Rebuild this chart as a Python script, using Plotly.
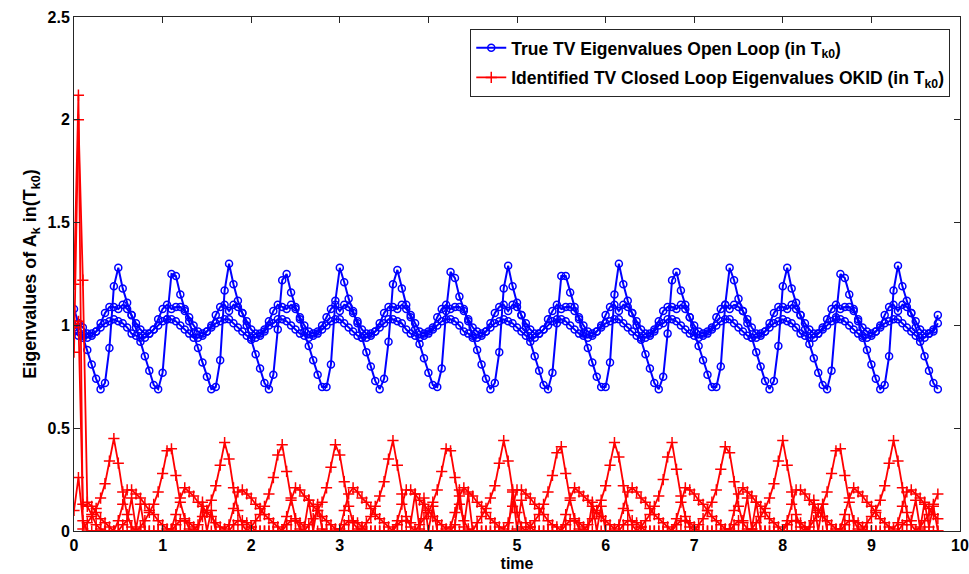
import plotly.graph_objects as go

dt = 0.05
n_samples = 196
time = [round(k * dt, 2) for k in range(n_samples)]

# Blue: true TV open-loop eigenvalue magnitudes (3 traces)
blue_saw = [
    1.08, 1.01, 0.95, 0.88, 0.81, 0.74, 0.69,
    0.72, 0.89, 1.19, 1.28, 1.18, 1.11, 1.05, 0.99, 0.92, 0.85, 0.78, 0.71,
    0.69, 0.77, 1.03, 1.25, 1.24, 1.15, 1.08, 1.02, 0.96, 0.89, 0.82, 0.75, 0.69,
    0.70, 0.83, 1.17, 1.30, 1.20, 1.12, 1.06, 1.00, 0.93, 0.86, 0.79, 0.72,
    0.69, 0.76, 0.98, 1.22, 1.25, 1.16, 1.09, 1.03, 0.97, 0.90, 0.83, 0.76, 0.70,
    0.70, 0.81, 1.12, 1.28, 1.21, 1.13, 1.07, 1.01, 0.94, 0.87, 0.80, 0.73,
    0.69, 0.74, 0.92, 1.20, 1.27, 1.18, 1.10, 1.04, 0.98, 0.91, 0.84, 0.77, 0.71,
    0.70, 0.79, 1.07, 1.26, 1.23, 1.14, 1.08, 1.02, 0.95, 0.88, 0.81, 0.74, 0.69,
    0.72, 0.87, 1.18, 1.29, 1.19, 1.11, 1.05, 0.99, 0.92, 0.85, 0.78, 0.71,
    0.69, 0.77, 1.01, 1.24, 1.24, 1.16, 1.09, 1.03, 0.96, 0.89, 0.82, 0.75, 0.70,
    0.70, 0.82, 1.15, 1.30, 1.20, 1.12, 1.06, 1.00, 0.93, 0.86, 0.79, 0.72,
    0.69, 0.75, 0.96, 1.22, 1.26, 1.17, 1.10, 1.04, 0.97, 0.90, 0.83, 0.76, 0.70,
    0.70, 0.80, 1.10, 1.28, 1.22, 1.13, 1.07, 1.01, 0.94, 0.87, 0.80, 0.73,
    0.69, 0.73, 0.90, 1.19, 1.28, 1.18, 1.11, 1.05, 0.98, 0.91, 0.84, 0.77, 0.71,
    0.69, 0.78, 1.04, 1.25, 1.23, 1.15, 1.08, 1.02, 0.95, 0.88, 0.81, 0.74, 0.69,
    0.71, 0.85, 1.17, 1.29, 1.19, 1.12, 1.06, 0.99, 0.92, 0.85, 0.78, 0.72,
    0.69,
]
blue_mid = [
    0.99, 1.01, 0.99, 0.96, 0.96, 0.97, 1.01,
    1.06, 1.09, 1.09, 1.08, 1.10, 1.08, 1.05, 1.01, 0.98, 0.96, 0.96, 0.98,
    1.03, 1.08, 1.10, 1.08, 1.09, 1.09, 1.07, 1.04, 1.00, 0.97, 0.96, 0.97, 1.00,
    1.05, 1.09, 1.10, 1.07, 1.10, 1.09, 1.06, 1.02, 0.98, 0.96, 0.96, 0.98,
    1.02, 1.07, 1.10, 1.09, 1.08, 1.10, 1.08, 1.04, 1.00, 0.97, 0.96, 0.97, 1.00,
    1.04, 1.08, 1.10, 1.07, 1.10, 1.09, 1.06, 1.02, 0.98, 0.96, 0.96, 0.97,
    1.01, 1.06, 1.09, 1.09, 1.08, 1.10, 1.08, 1.05, 1.01, 0.97, 0.96, 0.97, 0.99,
    1.04, 1.08, 1.10, 1.08, 1.09, 1.09, 1.07, 1.03, 0.99, 0.97, 0.96, 0.97, 1.01,
    1.06, 1.09, 1.10, 1.07, 1.10, 1.09, 1.05, 1.01, 0.98, 0.96, 0.96, 0.98,
    1.03, 1.07, 1.10, 1.08, 1.09, 1.09, 1.07, 1.04, 1.00, 0.97, 0.96, 0.97, 1.00,
    1.05, 1.09, 1.10, 1.07, 1.10, 1.09, 1.06, 1.02, 0.98, 0.96, 0.96, 0.98,
    1.02, 1.07, 1.09, 1.09, 1.08, 1.10, 1.08, 1.04, 1.00, 0.97, 0.96, 0.97, 0.99,
    1.04, 1.08, 1.10, 1.08, 1.10, 1.09, 1.07, 1.03, 0.99, 0.96, 0.96, 0.97,
    1.01, 1.06, 1.09, 1.09, 1.08, 1.10, 1.08, 1.05, 1.01, 0.98, 0.96, 0.96, 0.99,
    1.03, 1.08, 1.10, 1.08, 1.09, 1.09, 1.07, 1.03, 0.99, 0.97, 0.96, 0.97, 1.00,
    1.05, 1.09, 1.10, 1.07, 1.10, 1.09, 1.06, 1.02, 0.98, 0.96, 0.96, 0.98,
    1.05,
]
blue_low = [
    0.97, 0.95, 0.94, 0.94, 0.95, 0.97, 0.99,
    1.01, 1.02, 1.03, 1.02, 1.01, 0.99, 0.96, 0.95, 0.94, 0.94, 0.96, 0.98,
    1.00, 1.02, 1.03, 1.03, 1.02, 1.00, 0.98, 0.96, 0.94, 0.94, 0.95, 0.97, 0.99,
    1.01, 1.02, 1.03, 1.03, 1.01, 0.99, 0.97, 0.95, 0.94, 0.94, 0.95, 0.97,
    1.00, 1.01, 1.03, 1.03, 1.02, 1.00, 0.98, 0.96, 0.95, 0.94, 0.95, 0.96, 0.98,
    1.00, 1.02, 1.03, 1.03, 1.01, 0.99, 0.97, 0.95, 0.94, 0.94, 0.95, 0.97,
    0.99, 1.01, 1.03, 1.03, 1.02, 1.01, 0.98, 0.96, 0.95, 0.94, 0.95, 0.96, 0.98,
    1.00, 1.02, 1.03, 1.03, 1.02, 1.00, 0.97, 0.96, 0.94, 0.94, 0.95, 0.97, 0.99,
    1.01, 1.02, 1.03, 1.02, 1.01, 0.99, 0.97, 0.95, 0.94, 0.94, 0.96, 0.98,
    1.00, 1.02, 1.03, 1.03, 1.02, 1.00, 0.98, 0.96, 0.95, 0.94, 0.95, 0.97, 0.99,
    1.01, 1.02, 1.03, 1.03, 1.01, 0.99, 0.97, 0.95, 0.94, 0.94, 0.95, 0.97,
    1.00, 1.01, 1.03, 1.03, 1.02, 1.00, 0.98, 0.96, 0.95, 0.94, 0.95, 0.96, 0.98,
    1.00, 1.02, 1.03, 1.03, 1.01, 0.99, 0.97, 0.95, 0.94, 0.94, 0.95, 0.97,
    0.99, 1.01, 1.02, 1.03, 1.02, 1.01, 0.99, 0.96, 0.95, 0.94, 0.94, 0.96, 0.98,
    1.00, 1.02, 1.03, 1.03, 1.02, 1.00, 0.98, 0.96, 0.94, 0.94, 0.95, 0.97, 0.99,
    1.01, 1.02, 1.03, 1.03, 1.01, 0.99, 0.97, 0.95, 0.94, 0.94, 0.96, 0.97,
    1.01,
]

# Red: identified closed-loop eigenvalue magnitudes (4 traces)
red_peak = [
    1.20, 2.12, 0.01, 0.04, 0.07, 0.11, 0.16, 0.23, 0.34, 0.45, 0.33, 0.19, 0.08, 0.02,
    0.00, 0.02, 0.05, 0.09, 0.13, 0.19, 0.28, 0.39, 0.40, 0.27, 0.14, 0.06, 0.01, 0.00,
    0.03, 0.07, 0.10, 0.15, 0.22, 0.32, 0.43, 0.35, 0.21, 0.10, 0.03, 0.00,
    0.02, 0.05, 0.08, 0.12, 0.18, 0.26, 0.37, 0.42, 0.29, 0.16, 0.06, 0.01,
    0.00, 0.03, 0.06, 0.10, 0.14, 0.21, 0.31, 0.42, 0.37, 0.24, 0.12, 0.04, 0.01,
    0.01, 0.04, 0.07, 0.12, 0.17, 0.24, 0.35, 0.44, 0.32, 0.18, 0.07, 0.02,
    0.00, 0.03, 0.06, 0.09, 0.14, 0.20, 0.29, 0.40, 0.39, 0.26, 0.13, 0.05, 0.01,
    0.00, 0.04, 0.07, 0.11, 0.16, 0.22, 0.33, 0.44, 0.34, 0.20, 0.09, 0.02,
    0.00, 0.02, 0.05, 0.08, 0.13, 0.19, 0.27, 0.38, 0.41, 0.28, 0.15, 0.06, 0.01,
    0.00, 0.03, 0.06, 0.10, 0.15, 0.22, 0.32, 0.43, 0.36, 0.22, 0.10, 0.03, 0.00,
    0.02, 0.05, 0.08, 0.12, 0.17, 0.25, 0.36, 0.43, 0.30, 0.17, 0.07, 0.02,
    0.00, 0.03, 0.06, 0.10, 0.14, 0.20, 0.30, 0.41, 0.38, 0.24, 0.12, 0.04, 0.01,
    0.01, 0.04, 0.07, 0.11, 0.16, 0.23, 0.34, 0.44, 0.32, 0.19, 0.08, 0.02,
    0.00, 0.02, 0.05, 0.09, 0.13, 0.19, 0.28, 0.39, 0.40, 0.27, 0.14, 0.05, 0.01,
    0.00, 0.04, 0.07, 0.10, 0.15, 0.22, 0.33, 0.44, 0.34, 0.21, 0.09, 0.03, 0.00,
    0.02, 0.05, 0.08, 0.13, 0.18,
]
red_hump = [
    0.87, 2.00, 1.22, 0.14, 0.12, 0.09, 0.06,
    0.04, 0.02, 0.00, 0.05, 0.13, 0.20, 0.20, 0.18, 0.16, 0.13, 0.10, 0.08,
    0.05, 0.03, 0.01, 0.01, 0.08, 0.16, 0.21, 0.19, 0.17, 0.14, 0.12, 0.09, 0.07,
    0.04, 0.02, 0.01, 0.03, 0.11, 0.19, 0.20, 0.18, 0.16, 0.13, 0.11, 0.08,
    0.06, 0.04, 0.02, 0.00, 0.07, 0.15, 0.21, 0.20, 0.17, 0.15, 0.12, 0.10, 0.07,
    0.05, 0.03, 0.01, 0.01, 0.10, 0.18, 0.21, 0.19, 0.16, 0.14, 0.11, 0.08,
    0.06, 0.04, 0.02, 0.00, 0.05, 0.13, 0.20, 0.20, 0.18, 0.15, 0.13, 0.10, 0.07,
    0.05, 0.03, 0.01, 0.02, 0.09, 0.17, 0.21, 0.19, 0.17, 0.14, 0.12, 0.09, 0.06,
    0.04, 0.02, 0.01, 0.04, 0.12, 0.20, 0.20, 0.18, 0.16, 0.13, 0.11, 0.08,
    0.05, 0.03, 0.02, 0.00, 0.08, 0.16, 0.21, 0.19, 0.17, 0.15, 0.12, 0.09, 0.07,
    0.05, 0.03, 0.01, 0.03, 0.11, 0.19, 0.21, 0.19, 0.16, 0.14, 0.11, 0.08,
    0.06, 0.04, 0.02, 0.00, 0.06, 0.14, 0.21, 0.20, 0.18, 0.15, 0.13, 0.10, 0.07,
    0.05, 0.03, 0.01, 0.01, 0.10, 0.18, 0.21, 0.19, 0.17, 0.14, 0.12, 0.09,
    0.06, 0.04, 0.02, 0.00, 0.05, 0.13, 0.20, 0.20, 0.18, 0.15, 0.13, 0.10, 0.07,
    0.05, 0.03, 0.01, 0.01, 0.08, 0.16, 0.21, 0.19, 0.17, 0.14, 0.12, 0.09, 0.06,
    0.04, 0.02, 0.01, 0.04, 0.12, 0.19, 0.20, 0.18, 0.16, 0.13, 0.11, 0.08,
    0.06,
]
red_small = [
    0.99, 1.02, 0.13, 0.12, 0.08, 0.03, 0.01, 0.00, 0.00, 0.00, 0.00,
    0.03, 0.05, 0.16, 0.01, 0.13, 0.00, 0.00, 0.00, 0.00, 0.00, 0.00, 0.00,
    0.03, 0.05, 0.05, 0.04, 0.02, 0.00, 0.14, 0.00, 0.10, 0.00, 0.00, 0.00, 0.00,
    0.03, 0.05, 0.05, 0.04, 0.02, 0.00, 0.00, 0.00, 0.00, 0.00, 0.00, 0.00,
    0.03, 0.05, 0.05, 0.04, 0.02, 0.15, 0.00, 0.13, 0.01, 0.00, 0.00, 0.00, 0.00,
    0.03, 0.05, 0.05, 0.04, 0.02, 0.00, 0.00, 0.00, 0.00, 0.00, 0.00, 0.00,
    0.03, 0.05, 0.05, 0.04, 0.18, 0.01, 0.16, 0.00, 0.12, 0.00, 0.00, 0.00, 0.00,
    0.03, 0.20, 0.02, 0.18, 0.00, 0.00, 0.00, 0.00, 0.00, 0.00, 0.00, 0.00, 0.00,
    0.19, 0.01, 0.15, 0.04, 0.02, 0.00, 0.00, 0.00, 0.00, 0.00, 0.00, 0.00,
    0.03, 0.05, 0.05, 0.04, 0.02, 0.00, 0.14, 0.00, 0.12, 0.00, 0.00, 0.00, 0.00,
    0.03, 0.05, 0.05, 0.04, 0.02, 0.00, 0.00, 0.00, 0.00, 0.00, 0.00, 0.00,
    0.03, 0.05, 0.05, 0.04, 0.02, 0.00, 0.00, 0.00, 0.00, 0.00, 0.00, 0.00, 0.00,
    0.03, 0.05, 0.05, 0.16, 0.01, 0.14, 0.00, 0.00, 0.00, 0.00, 0.00, 0.00,
    0.03, 0.05, 0.05, 0.04, 0.02, 0.00, 0.15, 0.00, 0.13, 0.00, 0.00, 0.00, 0.00,
    0.03, 0.05, 0.05, 0.04, 0.02, 0.00, 0.00, 0.00, 0.00, 0.00, 0.00, 0.00, 0.00,
    0.03, 0.05, 0.05, 0.15, 0.01, 0.14, 0.02, 0.12, 0.00,
]
red_zero = [0.10, 0.26, 0.05] + [0.00] * (n_samples - 3)

for name, s in [("saw", blue_saw), ("mid", blue_mid), ("low", blue_low),
                ("peak", red_peak), ("hump", red_hump), ("small", red_small), ("zero", red_zero)]:
    assert len(s) == n_samples, (name, len(s))

BLUE = "#0000FF"
RED = "#FF0000"
FONT = "Liberation Sans, Arial, sans-serif"

fig = go.Figure()

blue_series = [blue_saw, blue_mid, blue_low]
for i, ys in enumerate(blue_series):
    fig.add_trace(go.Scatter(
        x=time, y=ys, mode="lines+markers",
        line=dict(color=BLUE, width=2),
        marker=dict(symbol="circle-open", size=7, color=BLUE, line=dict(width=1.5, color=BLUE)),
        name="<b>True TV Eigenvalues Open Loop (in T<sub>k0</sub>)</b>",
        legendgroup="blue", showlegend=(i == 0),
    ))

red_series = [red_peak, red_hump, red_small, red_zero]
for i, ys in enumerate(red_series):
    fig.add_trace(go.Scatter(
        x=time, y=ys, mode="lines+markers",
        line=dict(color=RED, width=1.8),
        marker=dict(symbol="cross-thin-open", size=8, color=RED, line=dict(width=1.5, color=RED)),
        name="<b>Identified TV Closed Loop Eigenvalues OKID (in T<sub>k0</sub>)</b>",
        legendgroup="red", showlegend=(i == 0),
    ))

axis_common = dict(
    showline=True, linecolor="#262626", linewidth=1, mirror="ticks",
    ticks="inside", ticklen=6, tickcolor="#262626", tickwidth=1,
    showgrid=False, zeroline=False, automargin=False,
    tickfont=dict(family=FONT, size=16, color="black", weight="bold"),
)

fig.update_layout(
    width=969, height=574,
    margin=dict(l=74, r=9, t=17, b=43),
    paper_bgcolor="white", plot_bgcolor="white",
    font=dict(family=FONT, color="black"),
    xaxis=dict(range=[0, 10], tickmode="array", tickvals=list(range(0, 11)),
               title=dict(text="<b>time</b>", font=dict(family=FONT, size=16), standoff=4),
               **axis_common),
    yaxis=dict(range=[0, 2.5], tickmode="array", tickvals=[0, 0.5, 1, 1.5, 2, 2.5],
               ticktext=["0", "0.5", "1", "1.5", "2", "2.5"],
               title=dict(text="<b>Eigenvalues of A<sub>k</sub> in(T<sub>k0</sub>)</b>",
                          font=dict(family=FONT, size=18), standoff=6),
               **axis_common),
    legend=dict(
        x=0.989, y=0.977, xanchor="right", yanchor="top",
        bgcolor="white", bordercolor="#262626", borderwidth=1,
        font=dict(family=FONT, size=17.5, color="black"),
        tracegroupgap=4, itemwidth=30,
    ),
    showlegend=True,
)

fig.write_html("out.html")
